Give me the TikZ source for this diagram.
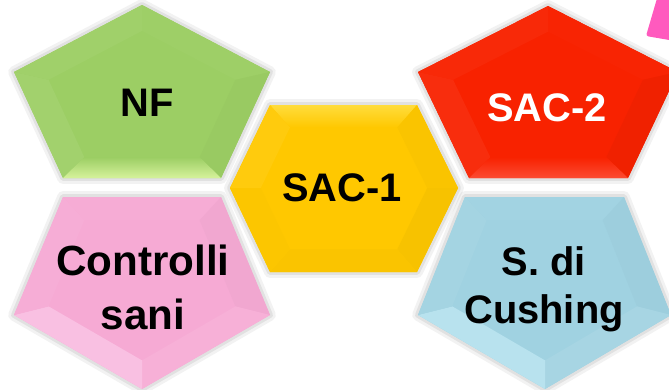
\documentclass[tikz,border=0pt]{standalone}
\usepackage{fontspec}
\setmainfont{Liberation Sans}
\usetikzlibrary{calc}
\definecolor{gbase}{RGB}{156,206,100}
\definecolor{glight}{RGB}{214,242,155}
\definecolor{pbase}{RGB}{246,170,212}
\definecolor{plight}{RGB}{249,192,226}
\definecolor{ybase}{RGB}{255,200,0}
\definecolor{ylight}{RGB}{255,220,60}
\definecolor{rbase}{RGB}{248,34,0}
\definecolor{rlight}{RGB}{252,75,50}
\definecolor{bbase}{RGB}{160,210,225}
\definecolor{blight}{RGB}{184,226,238}
\definecolor{magcorner}{RGB}{255,90,190}
\newcommand\kin{0.73}
\newcommand\facet[3]{\fill[#3] (#1)--(#2)--($(c)!\kin!(#2)$)--($(c)!\kin!(#1)$)--cycle;}
\newcommand\glowpath[1]{%
  \draw[black,opacity=0.05,line width=10pt,line join=round,yshift=-2pt] #1;
  \draw[black,opacity=0.07,line width=5pt,line join=round,yshift=-1.5pt] #1;}
\tikzset{
  lbl/.style={font=\bfseries\fontsize{34}{41}\selectfont,align=center,inner sep=0pt},
}
\begin{document}
\begin{tikzpicture}[x=0.03cm,y=-0.03cm]
\useasboundingbox (0,0) rectangle (669,389);
\clip (0,0) rectangle (669,389);

% magenta corner shape
\fill[magcorner,rounded corners=2pt] (658,-5)--(646,36)--(675,41)--(675,-5)--cycle;

% ---------- green pentagon (NF)
\begin{scope}
\coordinate (c) at (142,101);
\coordinate (a1) at (142,5); \coordinate (a2) at (270,72); \coordinate (a3) at (221,178);
\coordinate (a4) at (63,178); \coordinate (a5) at (14,72);
\glowpath{(a1)--(a2)--(a3)--(a4)--(a5)--cycle}
\fill[gbase] (a1)--(a2)--(a3)--(a4)--(a5)--cycle;
\facet{a5}{a1}{gbase!96!white}
\facet{a1}{a2}{gbase!98!white}
\facet{a2}{a3}{gbase!98!black}
\facet{a4}{a5}{gbase!94!white}
\shade[top color=gbase,bottom color=glight] (a3)--(a4)--($(c)!\kin!(a4)$)--($(c)!\kin!(a3)$)--cycle;
\end{scope}

% ---------- pink pentagon (Controlli sani)
\begin{scope}
\coordinate (c) at (142,283);
\coordinate (a1) at (63,197); \coordinate (a2) at (221,197); \coordinate (a3) at (270,315);
\coordinate (a4) at (142,389); \coordinate (a5) at (14,315);
\glowpath{(a1)--(a2)--(a3)--(a4)--(a5)--cycle}
\fill[pbase] (a1)--(a2)--(a3)--(a4)--(a5)--cycle;
\facet{a1}{a2}{pbase!98!white}
\facet{a2}{a3}{pbase!98!black}
\facet{a3}{a4}{pbase!93!white}
\facet{a4}{a5}{plight}
\facet{a5}{a1}{pbase!96!white}
\end{scope}

% ---------- red pentagon (SAC-2)
\begin{scope}
\coordinate (c) at (548,101);
\coordinate (a1) at (548,6); \coordinate (a2) at (678,72); \coordinate (a3) at (628,178);
\coordinate (a4) at (469,178); \coordinate (a5) at (418,72);
\glowpath{(a1)--(a2)--(a3)--(a4)--(a5)--cycle}
\fill[rbase] (a1)--(a2)--(a3)--(a4)--(a5)--cycle;
\facet{a5}{a1}{rbase!97!white}
\facet{a1}{a2}{rbase!99!white}
\facet{a2}{a3}{rbase!97!black}
\facet{a4}{a5}{rbase!95!white}
\shade[top color=rbase,bottom color=rlight] (a3)--(a4)--($(c)!\kin!(a4)$)--($(c)!\kin!(a3)$)--cycle;
\end{scope}

% ---------- blue pentagon (S. di Cushing)
\begin{scope}
\coordinate (c) at (545,283);
\coordinate (a1) at (465,197); \coordinate (a2) at (624,197); \coordinate (a3) at (671,315);
\coordinate (a4) at (545,389); \coordinate (a5) at (418,315);
\glowpath{(a1)--(a2)--(a3)--(a4)--(a5)--cycle}
\fill[bbase] (a1)--(a2)--(a3)--(a4)--(a5)--cycle;
\facet{a1}{a2}{bbase!98!white}
\facet{a2}{a3}{bbase!98!black}
\facet{a3}{a4}{bbase!93!white}
\facet{a4}{a5}{blight}
\facet{a5}{a1}{bbase!96!white}
\end{scope}

% ---------- yellow hexagon (SAC-1)
\begin{scope}
\coordinate (c) at (344,188);
\coordinate (a1) at (270,105); \coordinate (a2) at (417,105); \coordinate (a3) at (458,188);
\coordinate (a4) at (417,272); \coordinate (a5) at (270,272); \coordinate (a6) at (230,188);
\glowpath{(a1)--(a2)--(a3)--(a4)--(a5)--(a6)--cycle}
\fill[ybase] (a1)--(a2)--(a3)--(a4)--(a5)--(a6)--cycle;
\shade[top color=ylight,bottom color=ybase] (a1)--(a2)--($(c)!\kin!(a2)$)--($(c)!\kin!(a1)$)--cycle;
\facet{a2}{a3}{ybase!98!black}
\facet{a3}{a4}{ybase!97!black}
\facet{a4}{a5}{ybase!98!black}
\facet{a5}{a6}{ybase!99!black}
\facet{a6}{a1}{ybase!95!white}
\end{scope}

% ---------- labels
\node[lbl] (nf) at (147,103) {NF};
\node[lbl,font=\bfseries\fontsize{36}{46}\selectfont] (cs) at (143,287) {Controlli\\sani};
\node[lbl] (sac1) at (342,188) {SAC-1};
\node[lbl,text=white] (sac2) at (547,108) {SAC-2};
\node[lbl] (cush) at (544,289) {S. di\\Cushing};
\end{tikzpicture}
\end{document}
